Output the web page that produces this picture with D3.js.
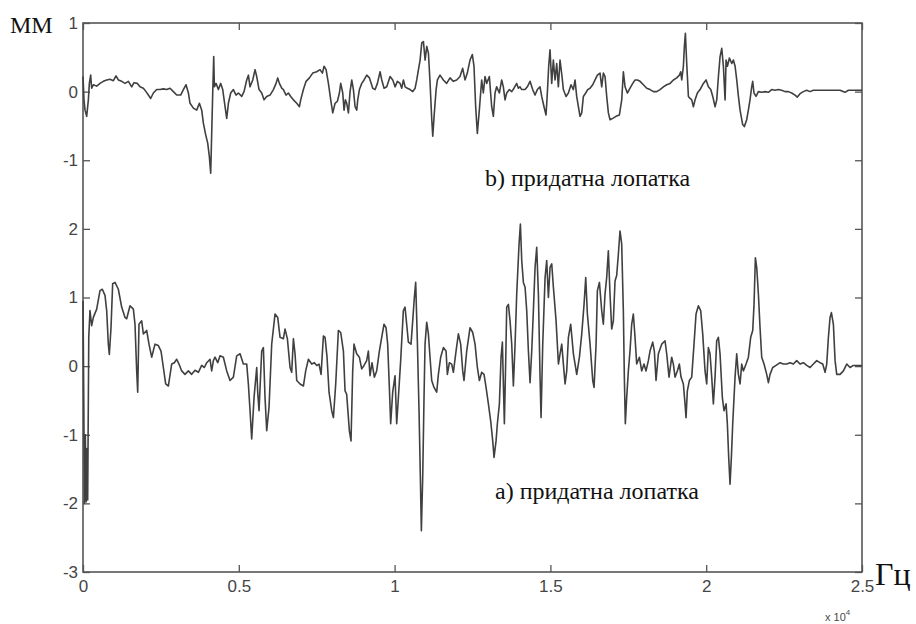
<!DOCTYPE html>
<html>
<head>
<meta charset="utf-8">
<script src="https://cdn.jsdelivr.net/npm/d3@7"></script>
<style>
  html, body { margin: 0; padding: 0; background: #ffffff; }
  svg { display: block; }
  .tick text { font-family: "Liberation Sans", Arial, sans-serif; font-size: 17px; fill: #454545; }
  .tick line { stroke: #555; stroke-width: 1.3; }
  .serif { font-family: "Liberation Serif", "Times New Roman", serif; fill: #111; }
</style>
</head>
<body>
<div id="root"></div>
<script>
// frequency in Hz, displacement in mm
const curveA = [[0,0.95],[25,-0.5],[45,-2.0],[75,-1.0],[100,-1.98],[125,-1.2],[150,-1.95],[185,0.42],[224,0.81],[278,0.59],[332,0.71],[439,0.83],[546,1.10],[620,1.12],[706,1.03],[760,0.81],[813,0.32],[845,0.17],[899,0.56],[952,1.20],[1027,1.22],[1134,1.12],[1241,0.86],[1348,0.71],[1402,0.69],[1509,0.88],[1616,0.83],[1669,0.61],[1723,-0.07],[1755,-0.38],[1797,0.61],[1883,0.66],[1937,0.47],[2044,0.52],[2118,0.32],[2204,0.13],[2311,0.32],[2418,0.30],[2504,0.22],[2579,-0.02],[2653,-0.26],[2739,-0.29],[2846,0.03],[2932,0.05],[3007,0.10],[3081,0.03],[3167,-0.07],[3274,-0.12],[3381,-0.07],[3488,-0.12],[3595,-0.06],[3702,-0.09],[3809,0.01],[3895,-0.02],[3970,0.05],[4077,0.10],[4130,-0.07],[4184,0.08],[4237,0.13],[4323,0.05],[4398,0.15],[4505,0.13],[4612,-0.07],[4719,-0.21],[4826,-0.16],[4933,0.15],[5040,0.18],[5147,0.03],[5254,0.03],[5307,-0.26],[5361,-0.65],[5414,-1.06],[5489,-0.46],[5575,-0.02],[5607,-0.38],[5649,-0.65],[5735,0.22],[5789,0.27],[5842,-0.46],[5896,-0.94],[5970,-0.60],[6056,0.32],[6163,0.76],[6249,0.71],[6324,0.42],[6431,0.40],[6484,0.54],[6559,0.40],[6645,-0.02],[6698,-0.09],[6752,0.40],[6805,0.18],[6859,-0.21],[6966,-0.26],[7073,-0.29],[7147,-0.07],[7233,0.10],[7340,0.03],[7426,0.05],[7501,0.01],[7575,0.03],[7640,-0.12],[7715,0.44],[7768,0.42],[7832,0.13],[7896,-0.38],[7982,-0.65],[8036,-0.75],[8110,-0.26],[8196,0.52],[8271,0.49],[8357,0.22],[8410,-0.36],[8462,-0.41],[8548,-0.94],[8601,-1.09],[8655,-0.07],[8697,0.32],[8783,0.18],[8869,0.13],[8944,-0.04],[9018,0.01],[9104,0.08],[9158,0.22],[9211,-0.14],[9275,0.05],[9350,-0.16],[9425,-0.07],[9511,0.22],[9586,0.42],[9660,0.61],[9725,0.56],[9778,0.32],[9832,-0.31],[9874,-0.84],[9939,-0.38],[10014,-0.14],[10067,-0.84],[10121,-0.46],[10195,0.08],[10281,0.81],[10335,0.86],[10388,0.61],[10442,0.35],[10527,0.32],[10581,0.66],[10634,1.00],[10677,1.22],[10730,0.37],[10784,-0.65],[10827,-1.62],[10859,-2.4],[10902,-1.62],[10944,-0.46],[10977,0.32],[11030,0.64],[11084,0.47],[11137,0.13],[11191,-0.21],[11265,-0.31],[11351,-0.38],[11405,-0.12],[11479,0.13],[11565,0.27],[11651,0.22],[11693,-0.12],[11758,0.05],[11833,0.03],[11886,-0.09],[11972,0.22],[12047,0.47],[12121,0.32],[12186,-0.07],[12228,-0.21],[12314,0.22],[12421,0.56],[12507,0.49],[12582,0.32],[12656,-0.02],[12721,-0.21],[12796,-0.09],[12870,-0.12],[12935,-0.31],[13010,-0.55],[13084,-0.80],[13149,-1.09],[13191,-1.33],[13256,-1.09],[13298,-0.84],[13363,-0.55],[13416,0.13],[13459,0.35],[13491,-0.26],[13523,-0.84],[13566,0.08],[13598,0.86],[13652,0.90],[13705,0.66],[13759,0.32],[13812,-0.29],[13866,0.32],[13919,1.05],[13994,1.78],[14037,2.07],[14080,1.54],[14133,1.22],[14187,1.15],[14240,0.81],[14294,0.22],[14347,-0.24],[14401,0.22],[14454,0.81],[14508,1.44],[14561,1.73],[14615,1.05],[14668,-0.16],[14700,-0.75],[14754,0.32],[14829,1.29],[14882,1.54],[14936,1.00],[14989,1.44],[15043,1.49],[15096,1.15],[15182,0.66],[15257,0.03],[15310,0.18],[15364,0.32],[15417,0.03],[15471,-0.26],[15524,-0.07],[15578,0.42],[15652,0.61],[15738,0.18],[15845,-0.12],[15931,0.13],[16006,0.47],[16080,0.90],[16134,1.29],[16187,0.76],[16273,0.32],[16359,-0.21],[16401,-0.31],[16466,0.32],[16508,1.10],[16573,1.22],[16646,0.81],[16699,0.61],[16753,1.05],[16806,1.29],[16860,1.68],[16913,1.05],[16967,0.54],[17020,0.66],[17074,1.24],[17127,1.32],[17181,1.63],[17234,1.97],[17288,1.78],[17341,0.81],[17373,-0.16],[17405,-0.84],[17448,-0.46],[17502,-0.07],[17555,0.22],[17609,0.61],[17662,0.76],[17716,0.42],[17769,0.03],[17855,0.13],[17930,-0.07],[18004,0.03],[18069,-0.07],[18144,0.08],[18197,0.22],[18283,0.35],[18336,0.22],[18390,-0.21],[18465,0.18],[18572,0.32],[18679,0.37],[18732,0.18],[18807,-0.16],[18893,0.13],[18946,0.03],[19000,-0.16],[19074,-0.07],[19139,0.03],[19192,-0.16],[19267,-0.26],[19321,-0.55],[19353,-0.75],[19395,-0.36],[19460,-0.21],[19535,-0.16],[19609,0.32],[19674,0.76],[19749,0.88],[19823,0.81],[19888,0.47],[19963,-0.07],[20016,-0.26],[20070,0.27],[20123,0.18],[20177,-0.16],[20230,-0.55],[20284,-0.16],[20337,0.37],[20391,0.42],[20444,0.18],[20519,-0.46],[20572,-0.65],[20637,-0.55],[20679,-0.84],[20722,-1.33],[20765,-1.72],[20808,-1.33],[20851,-0.84],[20926,-0.16],[20979,0.18],[21033,-0.12],[21086,-0.26],[21140,0.03],[21193,-0.07],[21279,0.03],[21354,0.13],[21428,0.42],[21493,0.52],[21535,0.90],[21578,1.58],[21621,1.44],[21675,1.05],[21728,0.56],[21782,0.13],[21856,0.03],[21942,-0.12],[21996,-0.24],[22049,-0.12],[22135,-0.02],[22242,0.01],[22370,0.05],[22477,0.03],[22584,0.03],[22691,0.05],[22798,0.03],[22905,0.08],[23012,0.03],[23119,0.05],[23226,0.01],[23333,-0.02],[23440,0.03],[23547,0.08],[23654,0.05],[23740,0.03],[23815,-0.09],[23868,0.03],[23922,0.42],[23975,0.71],[24018,0.78],[24082,0.61],[24136,0.08],[24189,-0.12],[24296,-0.12],[24403,-0.07],[24510,0.03],[24617,-0.02],[24724,0.01],[24831,0.01],[24938,0.01],[25000,0.01]];

const curveB = [[0,0.22],[32,-0.12],[65,-0.27],[118,-0.36],[172,-0.12],[204,0.12],[246,0.24],[279,0.05],[332,0.10],[439,0.08],[546,0.12],[653,0.15],[760,0.17],[867,0.18],[974,0.16],[1060,0.23],[1135,0.17],[1242,0.15],[1349,0.12],[1456,0.15],[1563,0.07],[1637,0.13],[1744,0.12],[1830,0.07],[1937,0.05],[2023,0.00],[2098,-0.05],[2172,-0.10],[2258,-0.02],[2365,0.03],[2472,0.03],[2579,0.04],[2686,0.03],[2793,0.05],[2900,0.00],[3007,-0.05],[3135,-0.05],[3221,0.03],[3307,0.10],[3382,-0.02],[3435,-0.17],[3542,-0.24],[3649,-0.27],[3735,-0.17],[3810,-0.27],[3863,-0.46],[3938,-0.63],[4002,-0.75],[4056,-0.95],[4098,-1.19],[4130,-0.61],[4163,-0.02],[4195,0.51],[4216,0.07],[4270,0.12],[4345,0.03],[4419,0.12],[4484,0.03],[4559,-0.22],[4612,-0.39],[4666,-0.17],[4740,-0.02],[4826,0.03],[4912,-0.05],[4987,-0.02],[5094,-0.07],[5168,0.00],[5254,0.17],[5308,0.24],[5361,0.07],[5447,0.17],[5522,0.32],[5575,0.22],[5650,0.03],[5736,-0.02],[5810,-0.12],[5896,-0.07],[6003,-0.05],[6110,0.03],[6196,0.12],[6249,0.20],[6303,0.12],[6378,0.05],[6431,0.03],[6517,-0.05],[6592,-0.02],[6666,-0.07],[6752,-0.12],[6859,-0.17],[6945,-0.22],[6987,-0.12],[7073,0.03],[7159,0.15],[7266,0.20],[7373,0.27],[7501,0.29],[7608,0.32],[7683,0.27],[7736,0.37],[7801,0.32],[7876,0.12],[7950,-0.12],[8015,-0.31],[8090,-0.17],[8164,-0.14],[8229,-0.02],[8271,0.12],[8336,-0.02],[8378,-0.27],[8421,-0.12],[8464,-0.17],[8518,-0.31],[8571,0.00],[8625,0.17],[8678,0.03],[8732,-0.22],[8785,-0.27],[8817,-0.12],[8871,0.03],[8946,0.12],[9020,0.17],[9106,0.24],[9192,0.20],[9299,0.05],[9374,0.03],[9448,0.12],[9534,0.29],[9588,0.17],[9662,0.05],[9748,0.07],[9855,0.22],[9941,0.17],[10016,0.07],[10090,0.15],[10176,0.12],[10230,0.05],[10283,0.17],[10337,0.07],[10411,0.05],[10497,0.03],[10583,0.00],[10658,0.05],[10711,0.17],[10765,0.32],[10818,0.46],[10872,0.71],[10925,0.73],[10979,0.46],[11032,0.66],[11086,0.56],[11139,0.12],[11193,-0.41],[11225,-0.65],[11267,-0.36],[11332,0.03],[11374,0.17],[11457,0.24],[11564,0.17],[11671,0.12],[11778,0.20],[11885,0.15],[11992,0.17],[12099,0.22],[12185,0.34],[12260,0.17],[12334,0.27],[12420,0.46],[12495,0.54],[12548,0.37],[12602,-0.22],[12655,-0.61],[12719,-0.27],[12794,0.17],[12848,-0.02],[12902,0.22],[12955,0.12],[13041,0.22],[13116,-0.22],[13169,-0.36],[13223,-0.02],[13276,0.07],[13362,-0.02],[13437,0.17],[13490,0.07],[13544,-0.12],[13597,-0.02],[13683,0.03],[13758,0.00],[13832,0.05],[13918,0.12],[13972,0.05],[14025,0.07],[14079,0.03],[14186,0.03],[14260,0.07],[14346,0.15],[14432,0.03],[14507,-0.05],[14581,0.03],[14667,0.07],[14721,-0.07],[14795,-0.22],[14859,-0.34],[14902,-0.02],[14945,0.37],[14988,0.61],[15042,0.12],[15095,0.46],[15149,0.17],[15202,0.41],[15256,0.07],[15309,0.46],[15373,0.22],[15416,0.03],[15502,-0.07],[15577,-0.02],[15662,0.10],[15737,0.03],[15791,0.17],[15844,-0.07],[15898,-0.22],[15951,-0.36],[16005,-0.31],[16058,-0.07],[16133,-0.02],[16197,0.03],[16272,0.05],[16358,0.10],[16433,0.17],[16507,0.24],[16593,0.27],[16647,0.07],[16700,0.27],[16754,0.22],[16807,-0.07],[16861,-0.31],[16914,-0.41],[17000,-0.39],[17107,-0.36],[17214,-0.34],[17289,-0.12],[17342,0.29],[17396,0.07],[17470,-0.02],[17556,0.05],[17642,0.12],[17717,0.17],[17792,0.17],[17877,0.15],[17984,0.10],[18091,0.05],[18198,0.03],[18305,0.00],[18412,0.00],[18519,0.03],[18626,0.07],[18733,0.10],[18840,0.12],[18947,0.17],[19054,0.20],[19140,0.24],[19182,0.29],[19215,0.17],[19268,0.37],[19300,0.66],[19332,0.85],[19375,0.41],[19429,-0.07],[19482,-0.10],[19536,-0.12],[19589,-0.22],[19643,-0.12],[19717,-0.02],[19803,0.03],[19910,0.12],[19996,0.17],[20071,0.07],[20146,0.03],[20210,-0.07],[20285,-0.22],[20338,-0.12],[20392,0.22],[20445,0.51],[20499,0.63],[20552,0.37],[20606,-0.12],[20638,0.46],[20681,0.37],[20745,0.49],[20820,0.41],[20873,0.46],[20927,0.37],[20980,0.17],[21034,-0.07],[21087,-0.27],[21171,-0.48],[21224,-0.51],[21299,-0.41],[21353,-0.27],[21406,-0.12],[21460,0.07],[21492,0.15],[21534,-0.02],[21599,-0.07],[21674,0.00],[21781,-0.01],[21888,0.00],[21995,-0.01],[22102,0.03],[22209,0.02],[22316,0.03],[22423,0.02],[22530,0.00],[22637,0.00],[22744,-0.02],[22851,-0.05],[22925,-0.08],[23011,-0.03],[23118,0.00],[23225,0.02],[23332,0.00],[23439,0.02],[23653,0.02],[23867,0.02],[24081,0.02],[24295,0.02],[24456,-0.01],[24563,0.02],[24723,0.02],[25000,0.02]];

const xTicks = [0, 5000, 10000, 15000, 20000, 25000];
const yTicksA = [-3, -2, -1, 0, 1, 2];
const yTicksB = [-1, 0, 1];
const labelA = "a) придатна лопатка";
const labelB = "b) придатна лопатка";

const width = 916;
const height = 624;
const margin = { left: 83, right: 54, top: 23, bottom: 52 };

const svg = d3
  .select("#root")
  .append("svg")
  .attr("width", width)
  .attr("height", height);

const x = d3
  .scaleLinear()
  .domain([0, 25000])
  .range([margin.left, width - margin.right]);

// two overlaid axes, same frame: curve a uses [-3, 5], curve b is shifted up by 4
const yA = d3
  .scaleLinear()
  .domain([-3, 5])
  .range([height - margin.bottom, margin.top]);

const yB = d3
  .scaleLinear()
  .domain([-7, 1])
  .range([height - margin.bottom, margin.top]);

const fmt = (d) => String(d);
const tick = 7;

// frame
svg
  .append("rect")
  .attr("x", x(0))
  .attr("y", yA(5))
  .attr("width", x(25000) - x(0))
  .attr("height", yA(-3) - yA(5))
  .attr("fill", "none")
  .attr("stroke", "#555")
  .attr("stroke-width", 1.6);

// bottom axis
svg
  .append("g")
  .attr("transform", `translate(0, ${yA(-3)})`)
  .call(
    d3.axisBottom(x)
      .tickValues(xTicks)
      .tickSizeInner(-tick)
      .tickSizeOuter(0)
      .tickPadding(8)
      .tickFormat((d) => fmt(d / 10000))
  )
  .call((g) => g.select(".domain").remove());

// top axis (ticks only)
svg
  .append("g")
  .attr("transform", `translate(0, ${yA(5)})`)
  .call(d3.axisTop(x).tickValues(xTicks).tickSizeInner(-tick).tickSizeOuter(0).tickFormat(""))
  .call((g) => g.select(".domain").remove());

// left axes
svg
  .append("g")
  .attr("transform", `translate(${x(0)}, 0)`)
  .call(d3.axisLeft(yA).tickValues(yTicksA).tickSizeInner(-tick).tickSizeOuter(0).tickPadding(5).tickFormat(fmt))
  .call((g) => g.select(".domain").remove());

svg
  .append("g")
  .attr("transform", `translate(${x(0)}, 0)`)
  .call(d3.axisLeft(yB).tickValues(yTicksB).tickSizeInner(-tick).tickSizeOuter(0).tickPadding(5).tickFormat(fmt))
  .call((g) => g.select(".domain").remove());

// right axes (ticks only)
svg
  .append("g")
  .attr("transform", `translate(${x(25000)}, 0)`)
  .call(d3.axisRight(yA).tickValues(yTicksA).tickSizeInner(-tick).tickSizeOuter(0).tickFormat(""))
  .call((g) => g.select(".domain").remove());

svg
  .append("g")
  .attr("transform", `translate(${x(25000)}, 0)`)
  .call(d3.axisRight(yB).tickValues(yTicksB).tickSizeInner(-tick).tickSizeOuter(0).tickFormat(""))
  .call((g) => g.select(".domain").remove());

// curves
const lineA = d3.line().x((d) => x(d[0])).y((d) => yA(d[1]));
const lineB = d3.line().x((d) => x(d[0])).y((d) => yB(d[1]));

svg
  .append("path")
  .datum(curveA)
  .attr("d", lineA)
  .attr("fill", "none")
  .attr("stroke", "#404040")
  .attr("stroke-width", 1.6)
  .attr("stroke-linejoin", "round");

svg
  .append("path")
  .datum(curveB)
  .attr("d", lineB)
  .attr("fill", "none")
  .attr("stroke", "#404040")
  .attr("stroke-width", 1.6)
  .attr("stroke-linejoin", "round");

// units
svg
  .append("text")
  .attr("class", "serif")
  .attr("x", 10)
  .attr("y", 33)
  .attr("font-size", 24)
  .text("ММ");

svg
  .append("text")
  .attr("class", "serif")
  .attr("x", 875)
  .attr("y", 585)
  .attr("font-size", 32)
  .text("Гц");

const mult = svg
  .append("text")
  .attr("x", 825)
  .attr("y", 621)
  .attr("font-family", "Liberation Sans, Arial, sans-serif")
  .attr("font-size", 11)
  .attr("fill", "#4a4a4a");
mult.append("tspan").text("x 10");
mult.append("tspan").attr("dy", -6).attr("font-size", 8).text("4");

// curve labels
svg
  .append("text")
  .attr("class", "serif")
  .attr("x", 485)
  .attr("y", 186)
  .attr("font-size", 24)
  .text(labelB);

svg
  .append("text")
  .attr("class", "serif")
  .attr("x", 495)
  .attr("y", 499)
  .attr("font-size", 24)
  .text(labelA);
</script>
</body>
</html>
